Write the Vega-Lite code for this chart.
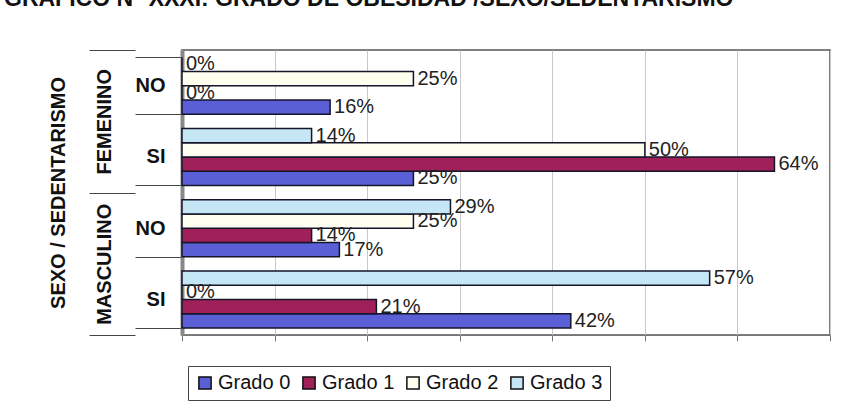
{
  "$schema": "https://vega.github.io/schema/vega-lite/v6.json",
  "autosize": {"type": "none"},
  "padding": {"left": 182, "top": 50, "right": 20, "bottom": 71},
  "width": 648,
  "height": 285,
  "title": {
    "text": "GRAFICO N° XXXI: GRADO DE OBESIDAD /SEXO/SEDENTARISMO",
    "anchor": "start",
    "frame": "group",
    "dx": -178,
    "dy": 19,
    "offset": 30,
    "baseline": "alphabetic",
    "fontSize": 23,
    "fontWeight": "bold",
    "font": "Liberation Sans",
    "color": "#111"
  },
  "config": {
    "font": "Liberation Sans",
    "view": {"stroke": "#555", "strokeWidth": 1.5}
  },
  "data": {
    "values": [
      {"sexo": "FEMENINO", "cat": "FEMENINO NO", "grado": "Grado 0", "valor": 0.16},
      {"sexo": "FEMENINO", "cat": "FEMENINO NO", "grado": "Grado 1", "valor": 0.0},
      {"sexo": "FEMENINO", "cat": "FEMENINO NO", "grado": "Grado 2", "valor": 0.25},
      {"sexo": "FEMENINO", "cat": "FEMENINO NO", "grado": "Grado 3", "valor": 0.0},
      {"sexo": "FEMENINO", "cat": "FEMENINO SI", "grado": "Grado 0", "valor": 0.25},
      {"sexo": "FEMENINO", "cat": "FEMENINO SI", "grado": "Grado 1", "valor": 0.64},
      {"sexo": "FEMENINO", "cat": "FEMENINO SI", "grado": "Grado 2", "valor": 0.50},
      {"sexo": "FEMENINO", "cat": "FEMENINO SI", "grado": "Grado 3", "valor": 0.14},
      {"sexo": "MASCULINO", "cat": "MASCULINO NO", "grado": "Grado 0", "valor": 0.17},
      {"sexo": "MASCULINO", "cat": "MASCULINO NO", "grado": "Grado 1", "valor": 0.14},
      {"sexo": "MASCULINO", "cat": "MASCULINO NO", "grado": "Grado 2", "valor": 0.25},
      {"sexo": "MASCULINO", "cat": "MASCULINO NO", "grado": "Grado 3", "valor": 0.29},
      {"sexo": "MASCULINO", "cat": "MASCULINO SI", "grado": "Grado 0", "valor": 0.42},
      {"sexo": "MASCULINO", "cat": "MASCULINO SI", "grado": "Grado 1", "valor": 0.21},
      {"sexo": "MASCULINO", "cat": "MASCULINO SI", "grado": "Grado 2", "valor": 0.0},
      {"sexo": "MASCULINO", "cat": "MASCULINO SI", "grado": "Grado 3", "valor": 0.57}
    ]
  },
  "layer": [
    {
      "layer": [
        {
          "mark": {"type": "bar", "stroke": "#15152a", "strokeWidth": 1.5},
          "encoding": {
            "y": {
              "field": "cat", "type": "nominal",
              "sort": ["FEMENINO NO", "FEMENINO SI", "MASCULINO NO", "MASCULINO SI"],
              "scale": {"paddingInner": 0.2, "paddingOuter": 0.1},
              "axis": {
                "orient": "left",
                "title": null,
                "domainColor": "#888",
                "domainWidth": 4,
                "tickBand": "extent",
                "tickSize": 47,
                "tickColor": "#444",
                "labelExpr": "split(datum.label, ' ')[1]",
                "labelFontSize": 20,
                "labelFontWeight": "bold",
                "labelPadding": -30,
                "labelColor": "#111"
              }
            },
            "yOffset": {
              "field": "grado", "type": "nominal", "sort": "descending",
              "scale": {"paddingInner": 0, "paddingOuter": 0}
            },
            "x": {
              "field": "valor", "type": "quantitative",
              "scale": {"domain": [0, 0.7], "nice": false},
              "axis": {
                "title": null,
                "labels": false,
                "values": [0, 0.1, 0.2, 0.3, 0.4, 0.5, 0.6, 0.7],
                "ticks": true,
                "tickSize": 6,
                "tickColor": "#777",
                "domainColor": "#777",
                "gridColor": "#c8c8c8"
              }
            },
            "color": {
              "field": "grado", "type": "nominal",
              "scale": {
                "domain": ["Grado 0", "Grado 1", "Grado 2", "Grado 3"],
                "range": ["#5a5fd6", "#a0215a", "#fffff0", "#c5e6f5"]
              },
              "legend": {
                "orient": "none",
                "legendX": 6,
                "legendY": 316,
                "direction": "horizontal",
                "title": null,
                "symbolType": "square",
                "symbolSize": 150,
                "symbolStrokeColor": "#111",
                "symbolStrokeWidth": 1.5,
                "labelFontSize": 20,
                "labelColor": "#111",
                "labelOffset": 3,
                "columnPadding": 8,
                "strokeColor": "#444",
                "padding": 7,
                "fillColor": "white"
              }
            }
          }
        },
        {
          "mark": {"type": "text", "align": "left", "dx": 4, "fontSize": 20, "color": "#222"},
          "encoding": {
            "y": {"field": "cat", "type": "nominal", "sort": ["FEMENINO NO", "FEMENINO SI", "MASCULINO NO", "MASCULINO SI"]},
            "yOffset": {"field": "grado", "type": "nominal", "sort": "descending"},
            "x": {"field": "valor", "type": "quantitative"},
            "text": {"field": "valor", "type": "quantitative", "format": ".0%"}
          }
        }
      ]
    },
    {
      "mark": {"type": "bar", "opacity": 0},
      "encoding": {
        "y": {
          "field": "sexo", "type": "nominal",
          "sort": ["FEMENINO", "MASCULINO"],
          "scale": {"paddingInner": 0, "paddingOuter": 0},
          "axis": {
            "orient": "left",
            "offset": 47,
            "domain": false,
            "ticks": true,
            "tickBand": "extent",
            "tickSize": 46,
            "tickColor": "#444",
            "labelAngle": -90,
            "labelAlign": "center",
            "labelBaseline": "alphabetic",
            "labelPadding": -21,
            "labelFontSize": 20,
            "labelFontWeight": "bold",
            "labelColor": "#111",
            "title": "SEXO / SEDENTARISMO",
            "titleAngle": -90,
            "titleFontSize": 20,
            "titleFontWeight": "bold",
            "titleColor": "#111",
            "titleBaseline": "alphabetic",
            "titlePadding": 24
          }
        }
      }
    }
  ],
  "resolve": {"scale": {"y": "independent"}, "axis": {"y": "independent"}}
}
